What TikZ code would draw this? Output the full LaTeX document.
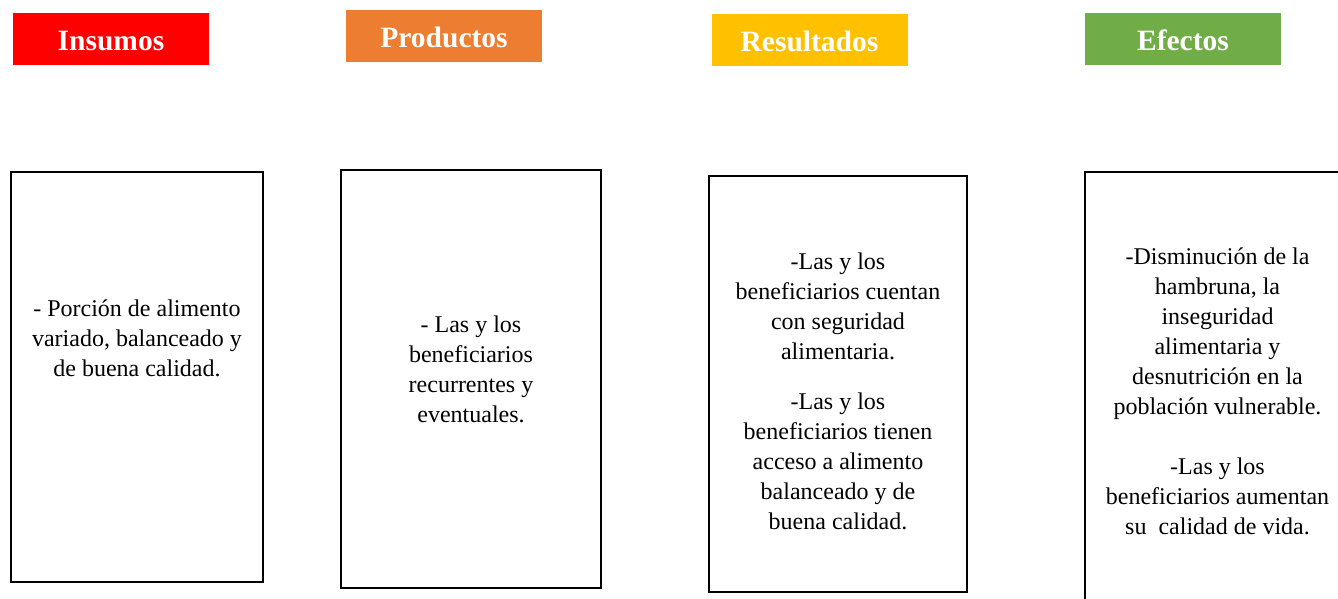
\documentclass[tikz,border=0pt]{standalone}
\usepackage{fontspec}
\setmainfont{Liberation Serif}
\definecolor{cRed}{HTML}{FF0000}
\definecolor{cOrange}{HTML}{ED7D31}
\definecolor{cGold}{HTML}{FFC000}
\definecolor{cGreen}{HTML}{70AD47}
\begin{document}
\begin{tikzpicture}[x=1pt,y=-1pt,
  head/.style={minimum width=196pt,minimum height=52pt,inner sep=0pt},
  headtext/.style={anchor=base,inner sep=0pt,text=white,font=\fontsize{29.5}{34}\selectfont\bfseries},
  panel/.style={draw=black,line width=1.6pt,fill=white,inner sep=0pt},
  body/.style={align=center,inner sep=0pt,font=\fontsize{24}{30}\selectfont}]
\useasboundingbox (0,0) rectangle (1338,598);
\clip (0,0) rectangle (1338,598);
\fill[white] (0,0) rectangle (1338,598);
% headers
\node[head,fill=cRed] (h1) at (111,39) {};
\node[head,fill=cOrange] (h2) at (444,36) {};
\node[head,fill=cGold] (h3) at (809.5,40) {};
\node[head,fill=cGreen] (h4) at (1183,39) {};
\node[headtext] (h1t) at (111,50) {Insumos};
\node[headtext] (h2t) at (444,47.3) {Productos};
\node[headtext] (h3t) at (809.5,51) {Resultados};
\node[headtext] (h4t) at (1183,50) {Efectos};
% panels
\node[panel,minimum width=252pt,minimum height=410pt] (p1) at (137,377) {};
\node[panel,minimum width=260pt,minimum height=418pt] (p2) at (471,379) {};
\node[panel,minimum width=258pt,minimum height=416pt] (p3) at (838,384) {};
\node[panel,minimum width=270pt,minimum height=450pt] (p4) at (1220,397) {};
% texts
\node[body] (t1) at (137,338) {- Porción de alimento\\variado, balanceado y\\de buena calidad.};
\node[body] (t2) at (471,369) {- Las y los\\beneficiarios\\recurrentes y\\eventuales.};
\node[body] (t3) at (838,391) {-Las y los\\beneficiarios cuentan\\con seguridad\\alimentaria.\\[20pt]-Las y los\\beneficiarios tienen\\acceso a alimento\\balanceado y de\\buena calidad.};
\node[body] (t4) at (1217.5,391) {-Disminución de la\\hambruna, la\\inseguridad\\alimentaria y\\desnutrición en la\\población vulnerable.\\[30pt]-Las y los\\beneficiarios aumentan\\su\ \ calidad de vida.};
\end{tikzpicture}
\end{document}
